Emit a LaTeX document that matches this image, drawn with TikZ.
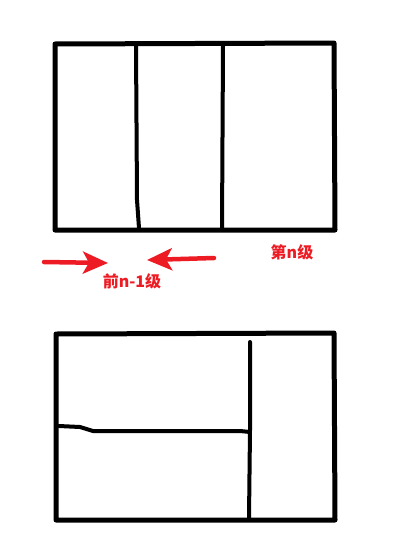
\documentclass[tikz,border=0pt]{standalone}
\usepackage{fontspec}
\newfontfamily\cjk{Noto Sans CJK SC}
\usetikzlibrary{arrows.meta,calc,positioning}
\definecolor{penred}{HTML}{ED1C24}
\tikzset{
sketch/.style={x=1pt,y=-1pt,line cap=round,line join=round},
frame/.style={draw=black,line width=5pt},
wall/.style={draw=black,line width=4pt},
push/.style={-{Stealth[length=25pt,width=22pt,inset=6pt]},draw=penred,line width=4.5pt},
tag/.style={text=penred,font=\cjk\bfseries\fontsize{16}{18}\selectfont,inner sep=0pt},
}

\begin{document}
\begin{tikzpicture}[sketch]
                    \useasboundingbox (0,0) rectangle (407,549);
                    % upper box
                    \draw[frame] (55,44) -- (334,43) -- (335,230) -- (55,230) -- cycle;
                    \draw[wall] (136,46) -- (137,200) -- (139,228);
                    \draw[wall] (223,46) -- (222,228);
                    % lower box
                    \draw[frame] (56,334) -- (334,333) -- (335,520) -- (56,520) -- cycle;
                    \draw[wall] (250,342) -- (250,430) -- (249,518);
                    \draw[wall] (59,426) -- (80,427) -- (93,431) -- (240,431) -- (250,432);

                    \node[tag] (n) at (292,252) {第n级};
                    \node[tag] (m) at (132,281) {前n-1级};
                    \coordinate (l) at (44,262);
                    \coordinate (r) at (214,258);
                    \draw[push] (l) -- (108,263);
                    \draw[push] (r) -- (147,260);
                \end{tikzpicture}
\end{document}
